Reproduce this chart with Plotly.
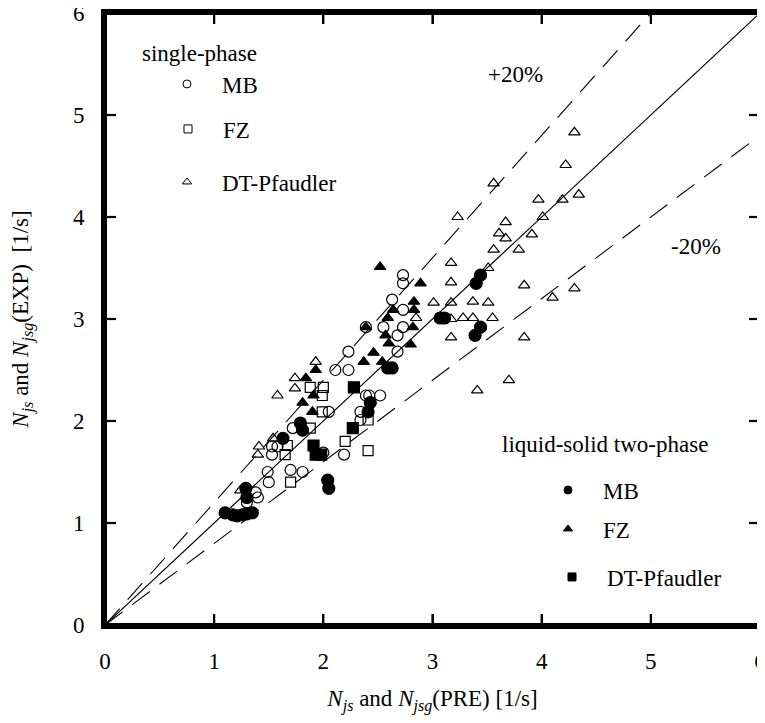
import plotly.graph_objects as go

# ---- data ----
sp_mb_x = [1.38, 1.40, 1.30, 1.49, 1.50, 1.70, 1.81, 1.53, 1.58, 1.53, 1.72, 2.00, 2.05, 2.19,
           2.34, 2.34, 2.39, 2.42, 2.52, 2.11, 2.23, 2.23, 2.55, 2.73, 2.68, 2.68, 2.63, 2.73,
           2.73, 2.73, 2.39]
sp_mb_y = [1.30, 1.25, 1.20, 1.50, 1.40, 1.52, 1.50, 1.75, 1.75, 1.67, 1.93, 1.69, 2.09, 1.67,
           2.09, 2.01, 2.25, 2.25, 2.25, 2.50, 2.50, 2.68, 2.92, 2.92, 2.84, 2.68, 3.19, 3.09,
           3.43, 3.35, 2.92]

sp_fz_x = [1.70, 1.67, 1.65, 1.88, 1.88, 2.00, 1.99, 1.99, 2.41, 2.20, 2.41]
sp_fz_y = [1.40, 1.76, 1.67, 1.93, 2.33, 2.33, 2.25, 2.09, 2.01, 1.80, 1.71]

sp_dt_x = [1.24, 1.41, 1.40, 1.54, 1.58, 1.74, 1.74, 1.93, 3.01, 2.85, 3.17, 3.17, 3.37, 3.51,
           3.17, 3.28, 3.37, 3.55, 3.84, 3.70, 3.41, 3.17, 3.17, 3.51, 3.84, 4.10, 4.30, 3.56,
           3.79, 3.61, 3.67, 3.67, 3.91, 4.01, 3.23, 3.56, 3.97, 4.19, 4.34, 4.22, 4.30]
sp_dt_y = [1.32, 1.75, 1.67, 1.83, 2.25, 2.42, 2.32, 2.58, 3.16, 3.01, 2.82, 3.16, 3.17, 3.16,
           3.00, 3.01, 3.01, 3.01, 2.82, 2.40, 2.30, 3.55, 3.36, 3.50, 3.33, 3.21, 3.30, 3.68,
           3.68, 3.84, 3.79, 3.95, 3.83, 4.00, 4.00, 4.33, 4.17, 4.17, 4.22, 4.51, 4.83]

tp_mb_x = [1.10, 1.17, 1.21, 1.26, 1.30, 1.35, 1.29, 1.30, 1.63, 1.79, 1.81, 2.04, 2.05, 2.43,
           2.41, 2.59, 2.63, 3.07, 3.11, 3.44, 3.40, 3.44, 3.39]
tp_mb_y = [1.10, 1.08, 1.07, 1.08, 1.09, 1.10, 1.34, 1.25, 1.83, 1.98, 1.91, 1.42, 1.34, 2.18,
           2.09, 2.52, 2.52, 3.01, 3.01, 3.43, 3.35, 2.92, 2.84]

tp_fz_x = [2.52, 2.89, 2.64, 2.83, 2.83, 2.59, 2.39, 2.82, 2.57, 2.60, 2.80, 2.37, 2.46, 2.54,
           1.93, 1.84, 1.81, 1.91, 1.90]
tp_fz_y = [3.51, 3.35, 3.09, 3.17, 3.09, 3.01, 2.92, 2.92, 2.84, 2.76, 2.75, 2.58, 2.67, 2.58,
           2.50, 2.42, 2.18, 2.25, 2.09]

tp_dt_x = [2.28, 2.27, 1.91, 1.93, 1.98]
tp_dt_y = [2.33, 1.93, 1.76, 1.67, 1.67]

line_x = [0, 6]
ratios = [1.0, 1.2, 0.8]

tick_vals = [0, 1, 2, 3, 4, 5, 6]
tick_text = ["0", "1", "2", "3", "4", "5", "6"]

FONT = "Liberation Serif"
# the page body has an 8px margin; size the figure so the page needs no scrollbars
OFF = 8
W, H = 765 - OFF, 723 - 2 * OFF
ML, MR, MT = 105 - OFF, 5, 13 - OFF
MB = OFF + H - 625
PW, PH = W - ML - MR, H - MT - MB
TICK_PX = 11  # inward tick length in pixels


def px(xp):
    # xp: pixel x in the window
    return (xp - OFF - ML) / PW


def py(yp):
    # yp: pixel y in the window
    return (OFF + H - MB - yp) / PH


fig = go.Figure()

# reference lines
for r in ratios:
    fig.add_trace(go.Scatter(
        x=line_x, y=[v * r for v in line_x], mode="lines",
        line=dict(color="black", width=1.2 if r == 1.0 else 1.1,
                  dash="solid" if r == 1.0 else "22px,12px"),
        showlegend=False, hoverinfo="skip"))

series = [
    (sp_mb_x, sp_mb_y, "circle-open", 11, "MB"),
    (sp_fz_x, sp_fz_y, "square-open", 10, "FZ"),
    (sp_dt_x, sp_dt_y, "triangle-up-open", 10, "DT-Pfaudler"),
    (tp_mb_x, tp_mb_y, "circle", 12, "MB"),
    (tp_fz_x, tp_fz_y, "triangle-up", 10, "FZ"),
    (tp_dt_x, tp_dt_y, "square", 11, "DT-Pfaudler"),
]
for xs, ys, sym, sz, name in series:
    fig.add_trace(go.Scatter(
        x=xs, y=ys, mode="markers", name=name, showlegend=False,
        marker=dict(symbol=sym, size=sz, color="black",
                    line=dict(color="black", width=1.2))))

# inward tick marks on all four sides, derived from the tick values
lo, hi = tick_vals[0], tick_vals[-1]
span = hi - lo
dy = TICK_PX / PH * span
dx = TICK_PX / PW * span
tk_x, tk_y = [], []
for v in tick_vals[1:-1]:
    tk_x += [v, v, None, v, v, None]          # bottom and top
    tk_y += [lo, lo + dy, None, hi, hi - dy, None]
    tk_x += [lo, lo + dx, None, hi, hi - dx, None]  # left and right
    tk_y += [v, v, None, v, v, None]
fig.add_trace(go.Scatter(
    x=tk_x, y=tk_y, mode="lines", showlegend=False, hoverinfo="skip",
    line=dict(color="black", width=2.2)))

# legend entries (one legend per entry for exact placement)
leg_pos = [(187, 84), (188, 129), (187, 182), (568, 490), (568, 529), (572, 577)]
leg_keys = ["legend", "legend2", "legend3", "legend4", "legend5", "legend6"]
leg_layout = {}
for (xs, ys, sym, sz, name), (lx, ly), key in zip(series, leg_pos, leg_keys):
    fig.add_trace(go.Scatter(
        x=[None], y=[None], mode="markers", name=name, legend=key, showlegend=True,
        marker=dict(symbol=sym, size=8, color="black", line=dict(color="black", width=1))))
    leg_layout[key] = dict(
        x=px(lx - 35), y=py(ly), xanchor="left", yanchor="middle",
        bgcolor="rgba(0,0,0,0)", borderwidth=0, itemwidth=60,
        font=dict(family=FONT, size=23, color="black"))

annotations = [
    dict(text="single-phase", x=px(140), y=py(54), xanchor="left", yanchor="middle"),
    dict(text="liquid-solid two-phase", x=px(500), y=py(445), xanchor="left", yanchor="middle"),
    dict(text="+20%", x=px(515), y=py(75), xanchor="center", yanchor="middle"),
    dict(text="-20%", x=px(696), y=py(247), xanchor="center", yanchor="middle"),
]
for a in annotations:
    a.update(xref="paper", yref="paper", showarrow=False,
             font=dict(family=FONT, size=23, color="black"))

axis_common = dict(
    range=[lo, hi], tickvals=tick_vals, ticktext=tick_text,
    showline=True, linecolor="black", linewidth=4, mirror="allticks",
    ticks="inside", ticklen=TICK_PX, tickwidth=2.2, tickcolor="black",
    showgrid=False, zeroline=False, ticklabeloverflow="allow",
    tickfont=dict(family=FONT, size=23, color="black"),
)

fig.update_layout(
    width=W, height=H,
    margin=dict(l=ML, r=MR, t=MT, b=MB, autoexpand=False),
    paper_bgcolor="white", plot_bgcolor="white",
    font=dict(family=FONT, size=23, color="black"),
    xaxis=dict(**axis_common, ticklabelstandoff=12,
               title=dict(text="<i>N</i><sub><i>js</i></sub> and <i>N</i><sub><i>jsg</i></sub>(PRE) [1/s]",
                          font=dict(family=FONT, size=23), standoff=18)),
    yaxis=dict(**axis_common, ticklabelstandoff=12,
               title=dict(text="<i>N</i><sub><i>js</i></sub> and <i>N</i><sub><i>jsg</i></sub>(EXP)  [1/s]",
                          font=dict(family=FONT, size=23), standoff=40)),
    shapes=[dict(type="rect", xref="paper", yref="paper", x0=0, x1=1, y0=0, y1=1,
                 line=dict(color="black", width=4), layer="above")],
    annotations=annotations,
    **leg_layout,
)

fig.write_html("out.html")
